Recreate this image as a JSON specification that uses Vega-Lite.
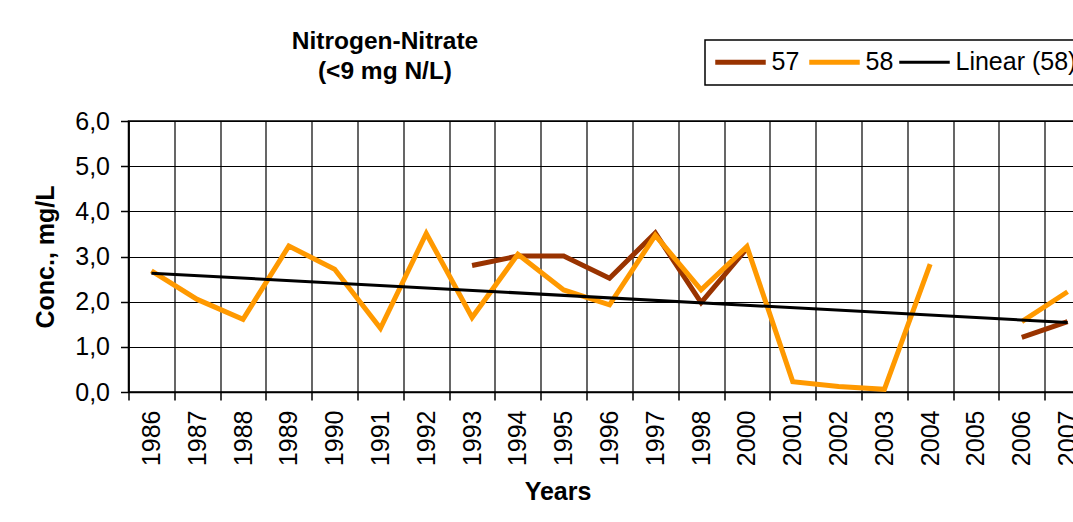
{
  "$schema": "https://vega.github.io/schema/vega-lite/v6.json",
  "width": 962,
  "height": 271,
  "autosize": {"type": "none"},
  "padding": {"left": 128.5, "top": 121, "right": -17.5, "bottom": 130},
  "background": "white",
  "title": {
    "text": ["Nitrogen-Nitrate", "(<9 mg N/L)"],
    "frame": "group",
    "anchor": "start",
    "align": "center",
    "dx": 256.5,
    "offset": -45,
    "font": "Liberation Sans",
    "fontSize": 24.5,
    "fontWeight": "bold",
    "color": "black",
    "lineHeight": 30
  },
  "datasets": {
    "obs": [
      {"year": "1993", "conc": 2.80, "series": "57", "seg": "57a"},
      {"year": "1994", "conc": 3.01, "series": "57", "seg": "57a"},
      {"year": "1995", "conc": 3.01, "series": "57", "seg": "57a"},
      {"year": "1996", "conc": 2.52, "series": "57", "seg": "57a"},
      {"year": "1997", "conc": 3.52, "series": "57", "seg": "57a"},
      {"year": "1998", "conc": 1.98, "series": "57", "seg": "57a"},
      {"year": "2000", "conc": 3.18, "series": "57", "seg": "57a"},
      {"year": "2006", "conc": 1.21, "series": "57", "seg": "57b"},
      {"year": "2007", "conc": 1.56, "series": "57", "seg": "57b"},
      {"year": "1986", "conc": 2.68, "series": "58", "seg": "58a"},
      {"year": "1987", "conc": 2.05, "series": "58", "seg": "58a"},
      {"year": "1988", "conc": 1.61, "series": "58", "seg": "58a"},
      {"year": "1989", "conc": 3.23, "series": "58", "seg": "58a"},
      {"year": "1990", "conc": 2.72, "series": "58", "seg": "58a"},
      {"year": "1991", "conc": 1.41, "series": "58", "seg": "58a"},
      {"year": "1992", "conc": 3.51, "series": "58", "seg": "58a"},
      {"year": "1993", "conc": 1.65, "series": "58", "seg": "58a"},
      {"year": "1994", "conc": 3.05, "series": "58", "seg": "58a"},
      {"year": "1995", "conc": 2.26, "series": "58", "seg": "58a"},
      {"year": "1996", "conc": 1.93, "series": "58", "seg": "58a"},
      {"year": "1997", "conc": 3.47, "series": "58", "seg": "58a"},
      {"year": "1998", "conc": 2.26, "series": "58", "seg": "58a"},
      {"year": "2000", "conc": 3.22, "series": "58", "seg": "58a"},
      {"year": "2001", "conc": 0.23, "series": "58", "seg": "58a"},
      {"year": "2002", "conc": 0.12, "series": "58", "seg": "58a"},
      {"year": "2003", "conc": 0.06, "series": "58", "seg": "58a"},
      {"year": "2004", "conc": 2.83, "series": "58", "seg": "58a"},
      {"year": "2006", "conc": 1.56, "series": "58", "seg": "58b"},
      {"year": "2007", "conc": 2.22, "series": "58", "seg": "58b"}
    ],
    "trend": [
      {"year": "1986", "conc": 2.63, "series": "Linear (58)"},
      {"year": "2007", "conc": 1.54, "series": "Linear (58)"}
    ]
  },
  "encoding": {
    "x": {
      "field": "year",
      "type": "ordinal",
      "scale": {
        "type": "band",
        "domain": ["1986","1987","1988","1989","1990","1991","1992","1993","1994","1995","1996","1997","1998","2000","2001","2002","2003","2004","2005","2006","2007"],
        "paddingInner": 0,
        "paddingOuter": 0
      },
      "axis": {
        "title": "Years",
        "titleX": 429,
        "tickBand": "extent",
        "labelAngle": 270,
        "labelPadding": 10,
        "titlePadding": 14,
        "labelOverlap": false,
        "grid": true
      }
    },
    "y": {
      "field": "conc",
      "type": "quantitative",
      "scale": {"domain": [0, 6], "nice": false},
      "axis": {
        "title": "Conc., mg/L",
        "values": [0, 1, 2, 3, 4, 5, 6],
        "labelExpr": "replace(format(datum.value, '.1f'), '.', ',')",
        "labelPadding": 11,
        "titlePadding": 16.5,
        "grid": true
      }
    },
    "color": {
      "field": "series",
      "type": "nominal",
      "scale": {"domain": ["57", "58", "Linear (58)"], "range": ["#993300", "#FF9900", "#000000"]},
      "legend": {
        "orient": "none",
        "legendX": 576.5,
        "legendY": -81,
        "direction": "horizontal",
        "title": null,
        "symbolType": "stroke",
        "symbolSize": 2550,
        "symbolStrokeWidth": 5,
        "symbolOffset": 13.5,
        "labelFontSize": 25,
        "labelFont": "Liberation Sans",
        "labelColor": "black",
        "labelOffset": 18.5,
        "labelLimit": 0,
        "columnPadding": -1,
        "padding": 9.5,
        "strokeColor": "black",
        "fillColor": "white",
        "encode": {
          "symbols": {"update": {"strokeWidth": {"signal": "datum.value === 'Linear (58)' ? 3 : 5"}, "opacity": {"value": 1}}}
        }
      }
    }
  },
  "layer": [
    {
      "data": {"name": "obs"},
      "mark": {"type": "line", "strokeWidth": 5},
      "encoding": {"detail": {"field": "seg", "type": "nominal"}}
    },
    {
      "data": {"name": "trend"},
      "mark": {"type": "line", "strokeWidth": 3},
      "encoding": {}
    }
  ],
  "config": {
    "font": "Liberation Sans",
    "view": {"stroke": "black", "strokeWidth": 1.5},
    "axis": {
      "labelFont": "Liberation Sans",
      "labelFontSize": 25,
      "labelColor": "black",
      "titleFont": "Liberation Sans",
      "titleFontSize": 25,
      "titleFontWeight": "bold",
      "titleColor": "black",
      "tickSize": 8,
      "tickColor": "black",
      "tickWidth": 1.5,
      "domainColor": "black",
      "domainWidth": 1.5,
      "gridColor": "black",
      "gridWidth": 1.2,
      "gridOpacity": 1
    },
    "legend": {"strokeWidth": 1.5}
  }
}
